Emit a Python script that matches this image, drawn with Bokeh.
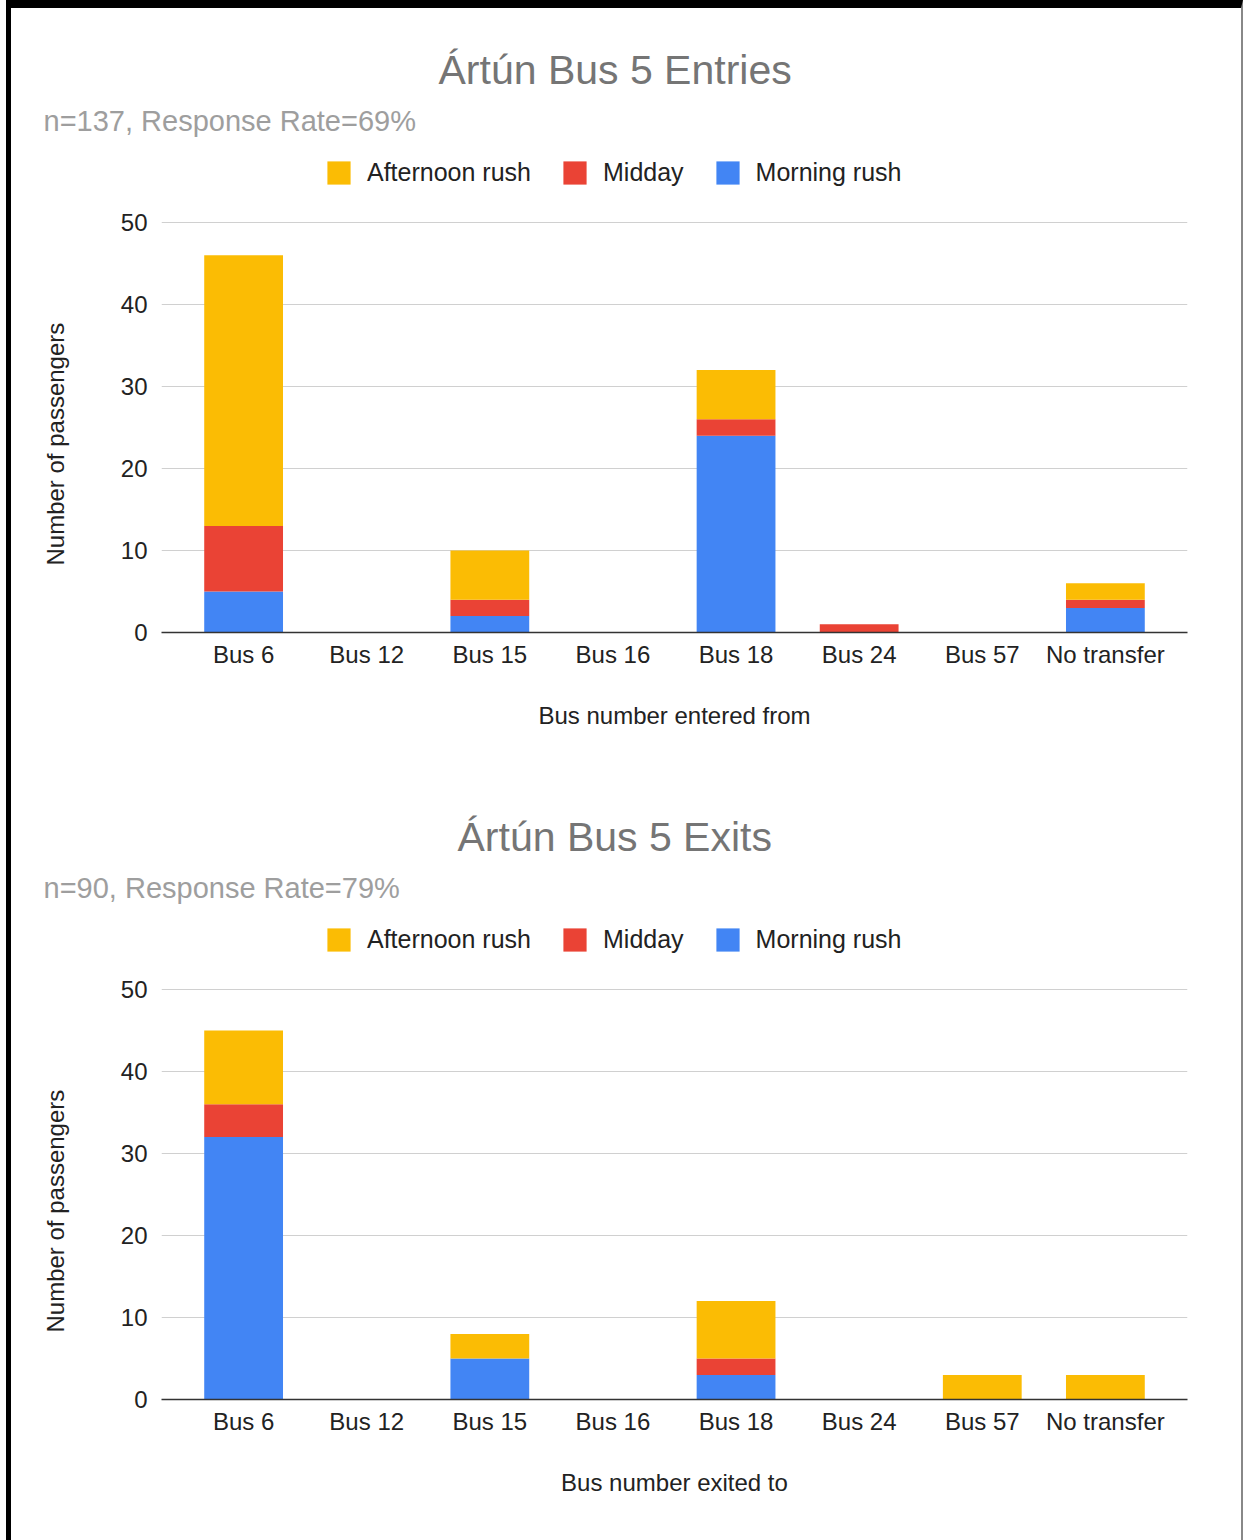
from bokeh.plotting import figure
from bokeh.layouts import column
from bokeh.models import (Range1d, FactorRange, FixedTicker, Legend, Title,
                          LegendItem, ColumnDataSource)
from bokeh.embed import file_html
from bokeh.resources import INLINE

categories = ["Bus 6", "Bus 12", "Bus 15", "Bus 16", "Bus 18", "Bus 24", "Bus 57", "No transfer"]
series = ["Morning rush", "Midday", "Afternoon rush"]
colors = ["#4285F4", "#EA4335", "#FBBC04"]

entries_morning = [5, 0, 2, 0, 24, 0, 0, 3]
entries_midday = [8, 0, 2, 0, 2, 1, 0, 1]
entries_afternoon = [33, 0, 6, 0, 6, 0, 0, 2]

exits_morning = [32, 0, 5, 0, 3, 0, 0, 0]
exits_midday = [4, 0, 0, 0, 2, 0, 0, 0]
exits_afternoon = [9, 0, 3, 0, 7, 0, 3, 3]

y_ticks = [0, 10, 20, 30, 40, 50]
y_label = "Number of passengers"

FONT = "Liberation Sans"


def make_chart(title, subtitle, xlabel, morning, midday, afternoon, height, title_offset):
    fb = 624    # frame bottom within figure
    ftop = 133  # frame top within figure (legend row lives inside the frame)
    y_top = 50 * (fb - ftop) / 410.0
    p = figure(x_range=FactorRange(factors=categories, range_padding=0.167,
                                   range_padding_units="absolute"),
               y_range=Range1d(0, y_top),
               width=1250, height=height, output_backend="svg", toolbar_location=None,
               min_border_left=169, min_border_right=34, min_border_top=ftop,
               min_border_bottom=height - fb,
               styles={"margin-left": "-20px"})
    p.outline_line_color = None
    p.background_fill_color = "white"
    p.border_fill_color = None

    src = ColumnDataSource(dict(cat=categories, **{
        series[0]: morning, series[1]: midday, series[2]: afternoon}))
    rends = p.vbar_stack(series, x="cat", width=0.64, fill_color=colors,
                         line_color=None, source=src)

    p.xgrid.grid_line_color = None
    p.ygrid.grid_line_color = "#d0d0d0"
    p.ygrid.grid_line_width = 1.2

    p.yaxis.ticker = FixedTicker(ticks=y_ticks)
    p.yaxis.axis_line_color = None
    p.yaxis.major_tick_line_color = None
    p.yaxis.minor_tick_line_color = None
    p.yaxis.major_tick_out = 0
    p.yaxis.major_tick_in = 0
    p.yaxis.major_label_standoff = 14
    p.yaxis.major_label_text_font_size = "24px"
    p.yaxis.major_label_text_color = "#222222"
    p.yaxis.major_label_text_font = FONT

    p.add_layout(Title(text=y_label, align="left", offset=67, standoff=97,
                       text_font_size="24px", text_color="#222222",
                       text_font_style="normal", text_font=FONT), "left")

    p.xaxis.axis_line_color = "#333333"
    p.xaxis.axis_line_width = 1.5
    p.xaxis.major_tick_line_color = None
    p.xaxis.minor_tick_line_color = None
    p.xaxis.major_tick_out = 0
    p.xaxis.major_tick_in = 0
    p.xaxis.major_label_standoff = 8
    p.xaxis.major_label_text_font_size = "24px"
    p.xaxis.major_label_text_color = "#222222"
    p.xaxis.major_label_text_font = FONT
    p.xaxis.axis_label = xlabel
    p.xaxis.axis_label_text_font_size = "24px"
    p.xaxis.axis_label_text_font_style = "normal"
    p.xaxis.axis_label_text_color = "#222222"
    p.xaxis.axis_label_text_font = FONT
    p.xaxis.axis_label_standoff = 31

    items = [LegendItem(label=s, renderers=[r]) for s, r in reversed(list(zip(series, rends)))]
    legend = Legend(items=items, orientation="horizontal", location=(163, 445),
                    glyph_width=29, glyph_height=29, label_standoff=14, spacing=29,
                    padding=0, margin=0, border_line_color=None,
                    background_fill_alpha=0, label_text_font_size="25px",
                    label_text_color="#222222", label_text_font=FONT)
    p.add_layout(legend)
    p.add_layout(Title(text=subtitle, align="left", offset=-118,
                       text_font_size="29px", text_color="#9e9e9e",
                       text_font_style="normal", text_font=FONT), "above")

    p.title.text = title
    p.title.align = "left"
    p.title.offset = title_offset
    p.title.text_font_size = "41px"
    p.title.text_color = "#757575"
    p.title.text_font_style = "normal"
    p.title.text_font = FONT
    return p


p1 = make_chart("Ártún Bus 5 Entries", "n=137, Response Rate=69%", "Bus number entered from",
                entries_morning, entries_midday, entries_afternoon, 767, 277)
p2 = make_chart("Ártún Bus 5 Exits", "n=90, Response Rate=79%", "Bus number exited to",
                exits_morning, exits_midday, exits_afternoon, 765, 296)

layout = column(p1, p2, spacing=0,
                styles={"border-top": "8px solid black", "border-left": "5px solid black",
                        "margin-left": "6px", "border-right": "2px solid #888888",
                        "background-color": "white"})

open("out.html", "w").write(file_html(layout, INLINE))
